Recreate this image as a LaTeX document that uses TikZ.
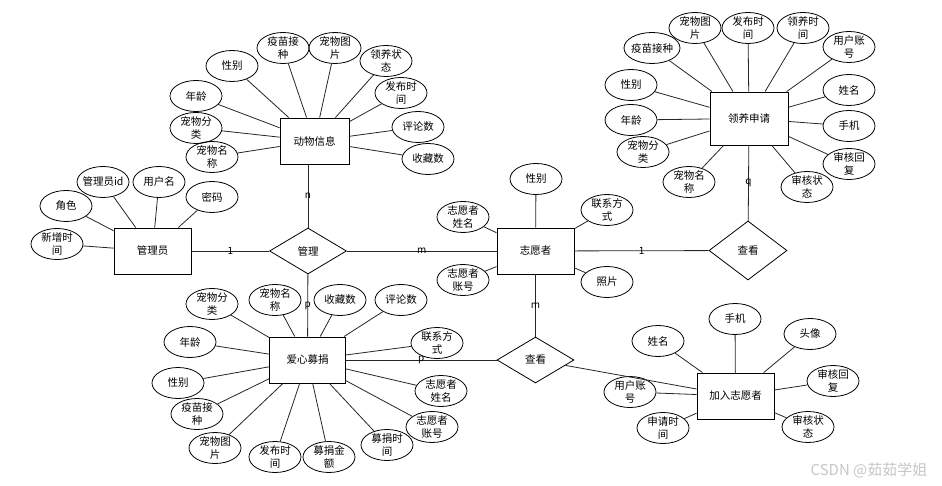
\documentclass[tikz,border=0pt]{standalone}
\usepackage{fontspec}
\setmainfont{Noto Sans CJK SC}
\usetikzlibrary{shapes.geometric}
\tikzset{
    entity-box/.style = {draw, line width=0.9pt, rectangle, minimum width=77pt, minimum height=46pt, inner sep=2pt, font=\fontsize{10.5}{13}\selectfont},
    attr-ellipse/.style = {draw, line width=0.8pt, ellipse, minimum width=52pt, minimum height=31pt, inner sep=-4pt, align=center, font=\fontsize{10.5}{13.5}\selectfont},
    relation-diamond/.style = {draw, line width=0.8pt, diamond, minimum width=77pt, minimum height=46pt, inner sep=0pt, font=\fontsize{10.5}{13}\selectfont},
    card-label/.style = {font=\fontsize{10}{11}\selectfont, inner sep=0pt},
    link/.style = {draw=black!85, line width=0.8pt},
}
\begin{document}
\begin{tikzpicture}[x=1pt, y=-1pt]
\useasboundingbox (0,0) rectangle (942,486);

% entities and relations
\node[entity-box, minimum width=69pt] (animal) at (314.5,141) {动物信息};
\node[entity-box] (admin) at (152.5,251) {管理员};
\node[relation-diamond] (manage) at (308,251) {管理};
\node[entity-box] (volunteer) at (535.5,251) {志愿者};
\node[relation-diamond, minimum width=78pt, minimum height=59pt] (viewA) at (748,250.5) {查看};
\node[entity-box, minimum width=78pt, minimum height=53pt] (adopt) at (749,118.5) {领养申请};
\node[entity-box, minimum width=76pt] (donate) at (307.5,360) {爱心募捐};
\node[relation-diamond] (viewB) at (535.5,360) {查看};
\node[entity-box] (join) at (735.5,396) {加入志愿者};

% attributes
\foreach \x/\y/\txt [count=\i] in {283/48/{疫苗接\\种}, 335/48/{宠物图\\片}, 386/61/{领养状\\态},
    401/93/{发布时\\间}, 418/127/评论数, 428/159/收藏数, 232/66/性别, 196/96/年龄,
    196/128/{宠物分\\类}, 212/157/{宠物名\\称}}{
  \node[attr-ellipse] (animal-\i) at (\x,\y) {\txt};
  \draw[link] (animal) -- (animal-\i);
}
\foreach \x/\y/\txt [count=\i] in {103/182/管理员id, 159/182/用户名, 212/197/密码,
    66/206/角色, 57/244/{新增时\\间}}{
  \node[attr-ellipse] (admin-\i) at (\x,\y) {\txt};
  \draw[link] (admin) -- (admin-\i);
}
\foreach \x/\y/\txt [count=\i] in {536/179/性别, 607/210/{联系方\\式}, 463/217/{志愿者\\姓名},
    463/280/{志愿者\\账号}, 607/282/照片}{
  \node[attr-ellipse] (volunteer-\i) at (\x,\y) {\txt};
  \draw[link] (volunteer) -- (volunteer-\i);
}
\foreach \x/\y/\txt [count=\i] in {695/28/{宠物图\\片}, 748/28/{发布时\\间}, 803/28/{领养时\\间},
    849/47/{用户账\\号}, 631/85/性别, 849/90/姓名, 631/120/年龄, 849/126/手机,
    643/152/{宠物分\\类}, 849/164/{审核回\\复}, 689/182/{宠物名\\称}, 807/187/{审核状\\态}}{
  \node[attr-ellipse] (adopt-\i) at (\x,\y) {\txt};
  \draw[link] (adopt) -- (adopt-\i);
}
\node[attr-ellipse, minimum width=56pt] (adopt-vac) at (652,48) {疫苗接种};
\draw[link] (adopt) -- (adopt-vac);
\foreach \x/\y/\txt [count=\i] in {212/304/{宠物分\\类}, 275/300/{宠物名\\称}, 340/300/收藏数,
    401/300/评论数, 437/343/{联系方\\式}, 190/342/年龄, 178/383/性别, 441/391/{志愿者\\姓名},
    197/414/{疫苗接\\种}, 432/427/{志愿者\\账号}, 215/448/{宠物图\\片}, 275/457/{发布时\\间},
    329/457/{募捐金\\额}, 387/445/{募捐时\\间}}{
  \node[attr-ellipse] (donate-\i) at (\x,\y) {\txt};
  \draw[link] (donate) -- (donate-\i);
}
\foreach \x/\y/\txt [count=\i] in {658/341/姓名, 735/319/手机, 810/334/头像, 833/381/{审核回\\复},
    808/427/{审核状\\态}, 630/392/{用户账\\号}, 663/428/{申请时\\间}}{
  \node[attr-ellipse] (join-\i) at (\x,\y) {\txt};
  \draw[link] (join) -- (join-\i);
}

% relationships
\draw[link] (admin) -- node[card-label] {1} (manage);
\draw[link] (manage) -- node[card-label] {m} (volunteer);
\draw[link] (manage.north |- animal.south) -- node[card-label] {n} (manage.north);
\draw[link] (manage) -- node[card-label] {p} (donate);
\draw[link] (volunteer) -- node[card-label] {1} (viewA);
\draw[link] (adopt) -- node[card-label] {q} (viewA);
\draw[link] (volunteer) -- node[card-label] {m} (viewB);
\draw[link] (donate) -- node[card-label] {p} (viewB);
\draw[link] (viewB) -- (join);

\node[font=\fontsize{15}{15}\selectfont, text=gray!45] (mark) at (869,470) {CSDN @茹茹学姐};
\end{tikzpicture}
\end{document}
